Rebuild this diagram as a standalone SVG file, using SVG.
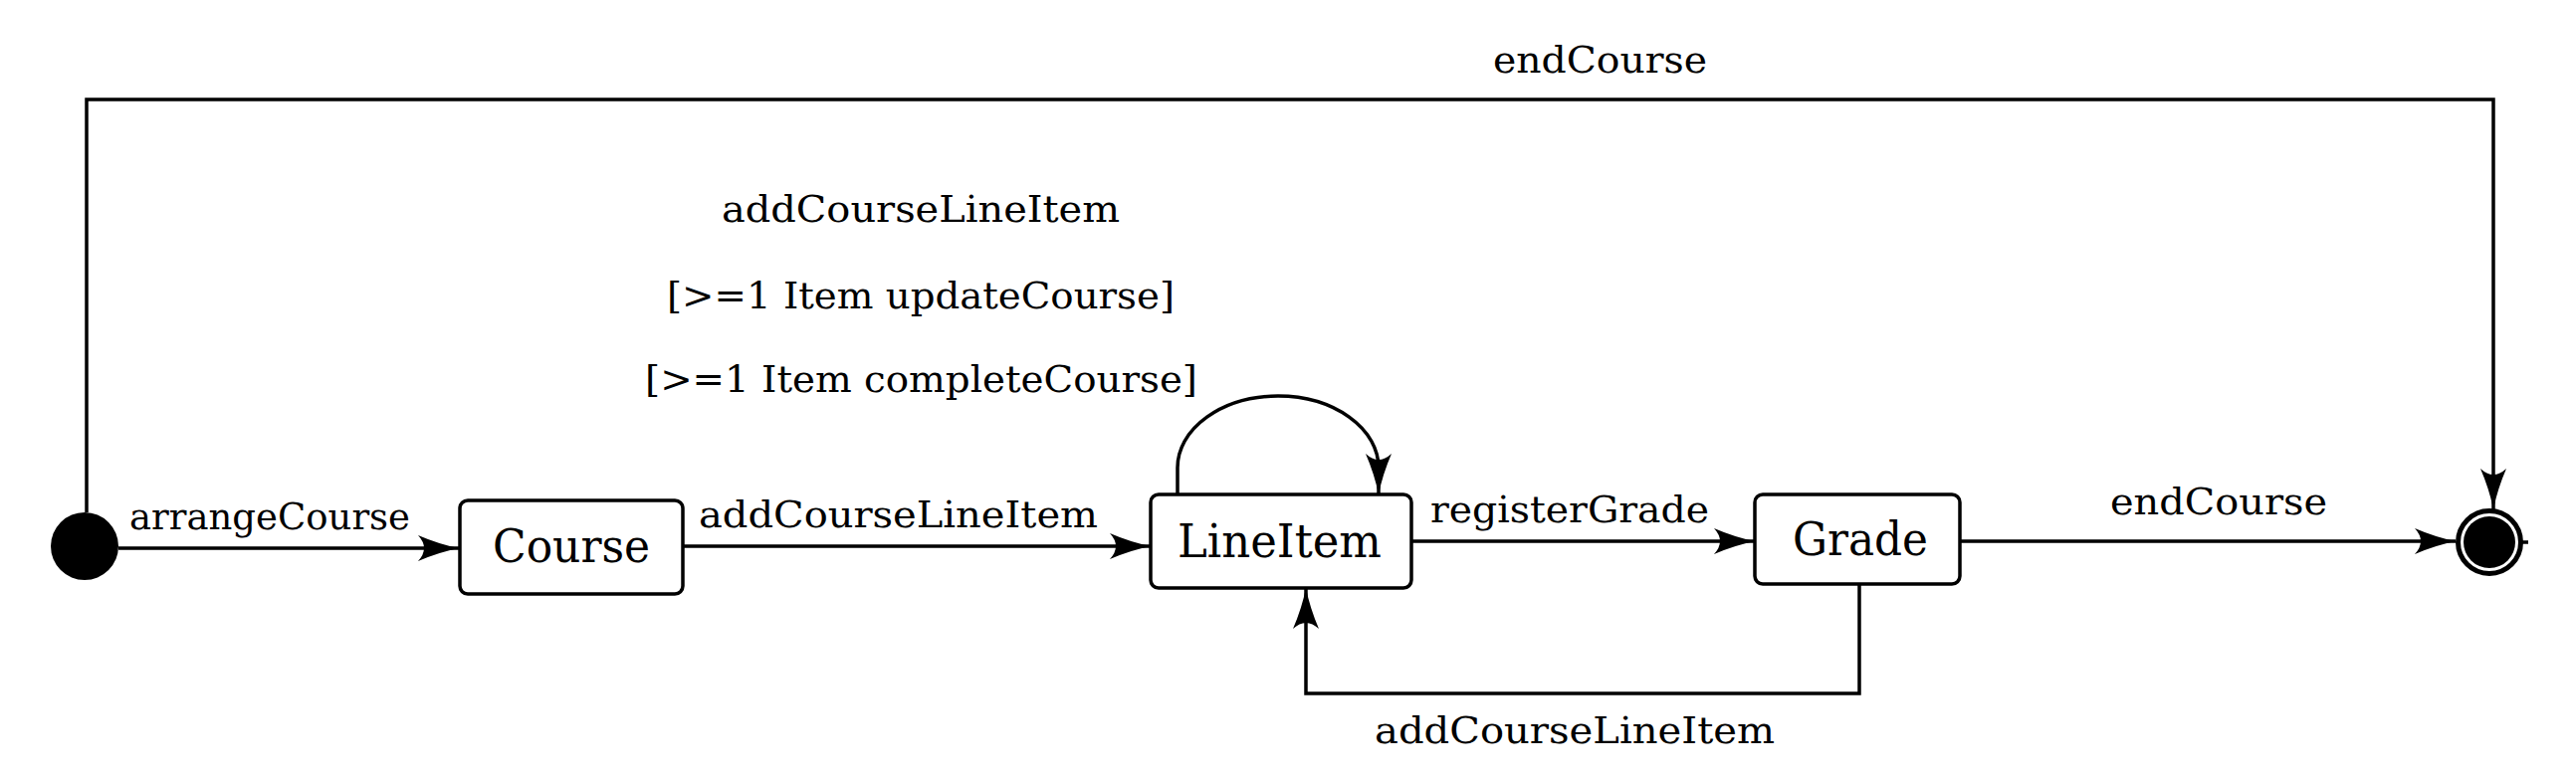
<svg xmlns="http://www.w3.org/2000/svg" width="2588" height="784" viewBox="0 0 2588 784">
<style>
  .lbl { font-family: "DejaVu Serif", "Liberation Serif", serif; font-size: 38px; fill: #000; }
  .nlbl { font-family: "DejaVu Serif", "Liberation Serif", serif; font-size: 47px; fill: #000; }
  .box { fill: #fff; stroke: #000; stroke-width: 3.5; }
  .edge { fill: none; stroke: #000; stroke-width: 3.5; }
</style>
<defs>
  <marker id="arr" markerUnits="userSpaceOnUse" markerWidth="50" markerHeight="34" viewBox="-44 -17 50 34" refX="0" refY="0" orient="auto">
    <path d="M0,0 Q-20,-4 -41,-13 Q-29,0 -41,13 Q-20,4 0,0 Z" fill="#000"/>
  </marker>
</defs>
<rect x="0" y="0" width="2588" height="784" fill="#fff"/>

<g id="connectors">
  <path class="edge" d="M87,515 L87,100 L2505,100 L2505,512" marker-end="url(#arr)"/>
  <path class="edge" d="M119,551 L461,551" marker-end="url(#arr)"/>
  <path class="edge" d="M686,549 L1156,549" marker-end="url(#arr)"/>
  <path class="edge" d="M1418,544 L1763,544" marker-end="url(#arr)"/>
  <path class="edge" d="M1969,544 L2467,544" marker-end="url(#arr)"/>
  <path class="edge" d="M2533,545 L2540,545"/>
  <path class="edge" d="M1183,497 L1183,470 A101,72 0 0 1 1385,470 L1385,497" marker-end="url(#arr)"/>
  <path class="edge" d="M1868,587 L1868,697 L1312,697 L1312,591" marker-end="url(#arr)"/>
  <text class="lbl" x="1500" y="73" textLength="215" lengthAdjust="spacingAndGlyphs">endCourse</text>
  <text class="lbl" x="725" y="223" textLength="400" lengthAdjust="spacingAndGlyphs">addCourseLineItem</text>
  <text class="lbl" x="670" y="310" textLength="510" lengthAdjust="spacingAndGlyphs">[&gt;=1 Item updateCourse]</text>
  <text class="lbl" x="648" y="394" textLength="555" lengthAdjust="spacingAndGlyphs">[&gt;=1 Item completeCourse]</text>
  <text class="lbl" x="130" y="532" textLength="282" lengthAdjust="spacingAndGlyphs">arrangeCourse</text>
  <text class="lbl" x="702" y="530" textLength="401" lengthAdjust="spacingAndGlyphs">addCourseLineItem</text>
  <text class="lbl" x="1437" y="525" textLength="280" lengthAdjust="spacingAndGlyphs">registerGrade</text>
  <text class="lbl" x="2120" y="517" textLength="218" lengthAdjust="spacingAndGlyphs">endCourse</text>
  <text class="lbl" x="1381" y="747" textLength="402" lengthAdjust="spacingAndGlyphs">addCourseLineItem</text>
</g>

<g id="initial">
  <ellipse cx="85" cy="549" rx="34" ry="34" fill="#000"/>
</g>

<g id="course">
  <rect class="box" x="462" y="503" width="224" height="94" rx="8"/>
  <text class="nlbl" x="495" y="565" textLength="158" lengthAdjust="spacingAndGlyphs">Course</text>
</g>

<g id="lineitem">
  <rect class="box" x="1156" y="497" width="262" height="94" rx="8"/>
  <text class="nlbl" x="1183" y="560" textLength="205" lengthAdjust="spacingAndGlyphs">LineItem</text>
</g>

<g id="grade">
  <rect class="box" x="1763" y="497" width="206" height="90" rx="8"/>
  <text class="nlbl" x="1801" y="558" textLength="136" lengthAdjust="spacingAndGlyphs">Grade</text>
</g>

<g id="final">
  <circle cx="2501" cy="545" r="31.5" fill="#fff" stroke="#000" stroke-width="5"/>
  <circle cx="2501" cy="545" r="26" fill="#000"/>
</g>
</svg>
